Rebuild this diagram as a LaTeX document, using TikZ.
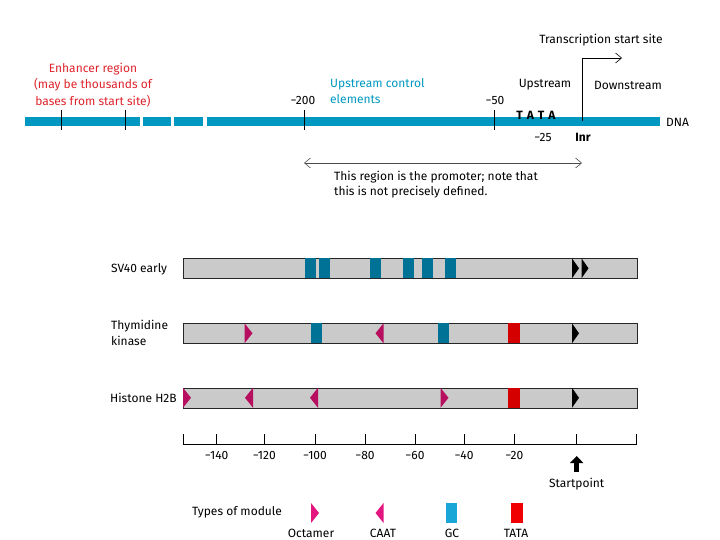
\documentclass[tikz,border=0pt]{standalone}
\usepackage{fontspec}
\setmainfont{Fira Sans}
\usetikzlibrary{arrows.meta}

\definecolor{dnablue}{RGB}{0,152,192}
\definecolor{enhred}{RGB}{222,36,44}
\definecolor{rowgray}{RGB}{202,202,202}
\definecolor{gcrow}{RGB}{0,114,150}
\definecolor{gcleg}{RGB}{26,166,214}
\definecolor{tatarow}{RGB}{212,0,0}
\definecolor{tataleg}{RGB}{240,0,0}
\definecolor{pinkrow}{RGB}{184,14,96}
\definecolor{pinkleg}{RGB}{226,22,126}

\begin{document}
\begin{tikzpicture}[
        x=1pt, y=-1pt,
        font=\fontsize{12}{14.4}\selectfont,
        txt/.style={inner sep=0pt},
        row/.style={draw=black!85, fill=rowgray, minimum width=454pt, minimum height=20pt, inner sep=0pt},
        tick/.style={black, line width=0.7pt},
        octamer/.pic={\fill[#1] (-4,-10) -- (4,0) -- (-4,10) -- cycle;},
        caat/.pic={\fill[#1] (4,-10) -- (-4,0) -- (4,10) -- cycle;},
        gcbox/.pic={\fill[#1] (-5.5,-10) rectangle (5.5,10);},
        tatabox/.pic={\fill[#1] (-6,-10) rectangle (6,10);},
        startmark/.pic={\fill[black] (-3.5,-10) -- (3.5,0) -- (-3.5,10) -- cycle;},
        barb/.style={line width=0.6pt, {Straight Barb[length=6pt,width=10pt]}-{Straight Barb[length=6pt,width=10pt]}}
    ]
        \useasboundingbox (0,0) rectangle (720,540);

        % DNA strand
        \fill[dnablue] (25,117) rectangle (140,126);
        \fill[dnablue] (143,117) rectangle (171,126);
        \fill[dnablue] (174,117) rectangle (203,126);
        \fill[dnablue] (207,117) rectangle (660,126);
        \draw[tick] (61,110) -- (61,130);
        \draw[tick] (125,110) -- (125,130);
        \draw[tick] (304,110) -- (304,130);
        \draw[tick] (494,110) -- (494,130);

        \node[txt, text=enhred, align=center] (enh) at (93,85) {Enhancer region\\[2pt](may be thousands of\\[2pt]bases from start site)};
        \node[txt, text=dnablue, align=left, anchor=west] (uce) at (330,91) {Upstream control\\[1pt]elements};
        \node[txt] (m200) at (303,100) {−200};
        \node[txt] (m50) at (495,100) {−50};
        \node[txt] (tata) at (536,115) {\textbf{T\hspace{4pt}A\hspace{4pt}T\hspace{4pt}A}};
        \node[txt] (m25) at (543,137) {−25};
        \node[txt] (inr) at (583,137) {\textbf{Inr}};
        \node[txt, anchor=west] (dna) at (666,122) {DNA};
        \node[txt] (up) at (545,85) {Upstream};
        \node[txt] (down) at (628,85) {Downstream};
        \node[txt] (tsslbl) at (601,40) {Transcription start site};

        \coordinate (tss) at (582,121.5);
        \coordinate (tssend) at (622,58);
        \draw[line width=0.6pt, -{Straight Barb[length=6pt,width=10pt]}] (tss) |- (tssend);

        \coordinate (promL) at (304,163);
        \coordinate (promR) at (582,163);
        \draw[barb, black!70] (promL) -- (promR);
        \node[txt, align=left, anchor=west] (prom) at (334,184.5) {This region is the promoter; note that\\this is not precisely defined.};

        % promoter rows
        \node[row] (sv40) at (410.5,268.3) {};
        \node[row] (tk) at (410.5,333.3) {};
        \node[row] (h2b) at (410.5,397.8) {};
        \node[txt, anchor=west] (sv40lbl) at (111,269) {SV40 early};
        \node[txt, anchor=west, align=left] (tklbl) at (111,333) {Thymidine\\[1pt]kinase};
        \node[txt, anchor=west] (h2blbl) at (110,398) {Histone H2B};

        \pic at (310.5,268.3) {gcbox=gcrow};
        \pic at (324,268.3) {gcbox=gcrow};
        \pic at (375.5,268.3) {gcbox=gcrow};
        \pic at (408,268.3) {gcbox=gcrow};
        \pic at (427.5,268.3) {gcbox=gcrow};
        \pic at (450.5,268.3) {gcbox=gcrow};
        \pic at (575.5,268.3) {startmark};
        \pic at (585,268.3) {startmark};

        \pic at (248.5,333.3) {octamer=pinkrow};
        \pic at (316.5,333.3) {gcbox=gcrow};
        \pic at (379.5,333.3) {caat=pinkrow};
        \pic at (443.5,333.3) {gcbox=gcrow};
        \pic at (514,333.3) {tatabox=tatarow};
        \pic at (575.5,333.3) {startmark};

        \pic at (187,397.8) {octamer=pinkrow};
        \pic at (249,397.8) {caat=pinkrow};
        \pic at (314,397.8) {caat=pinkrow};
        \pic at (444.5,397.8) {octamer=pinkrow};
        \pic at (514,397.8) {tatabox=tatarow};
        \pic at (575.5,397.8) {startmark};

        % scale
        \draw[tick] (183.3,434) -- (183.3,444) -- (636.7,444) -- (636.7,434);
        \foreach \x/\v in {216.7/140, 264.3/120, 315/100, 365/80, 415/60, 464/40, 514.3/20} {
            \draw[tick] (\x,434) -- (\x,444);
            \node[txt] at (\x,455) {−\v};
        }
        \draw[tick] (576.7,434) -- (576.7,444);
        \draw[line width=5pt, -{Triangle[length=7pt,width=13pt]}] (576.7,472) -- (576.7,456);
        \node[txt] (startpt) at (576.7,484) {Startpoint};

        % legend
        \node[txt, anchor=west] (types) at (192,512) {Types of module};
        \pic at (315,513) {octamer=pinkleg};
        \pic at (379.5,513) {caat=pinkleg};
        \pic at (451.5,513) {gcbox=gcleg};
        \pic at (517,513) {tatabox=tataleg};
        \node[txt] (octlbl) at (311,533) {Octamer};
        \node[txt] (caatlbl) at (383,533) {CAAT};
        \node[txt] (gclbl) at (452,533) {GC};
        \node[txt] (tatalbl) at (516,533) {TATA};
    \end{tikzpicture}
\end{document}
